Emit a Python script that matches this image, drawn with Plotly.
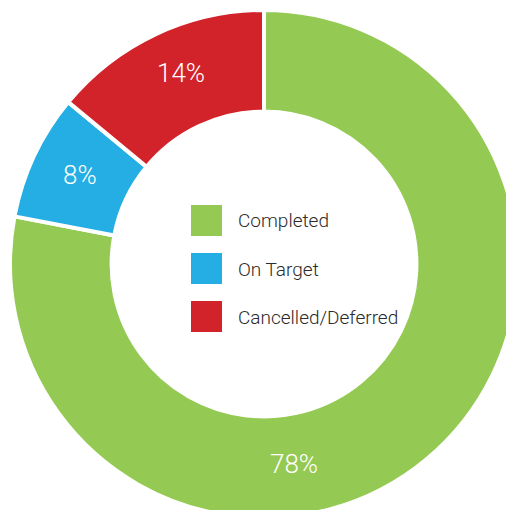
import plotly.graph_objects as go

categories = ["Completed", "On Target", "Cancelled/Deferred"]
values = [78, 8, 14]
colors = ["#94C953", "#25AEE3", "#D2232A"]

W, H = 528, 528
ML, MT, MR, MB = 10, 10, 10, 10
PW, PH = W - ML - MR, H - MT - MB


def px(x):
    return (x - ML) / PW


def py(y):
    return 1 - (y - MT) / PH


fig = go.Figure()
fig.add_trace(go.Pie(
    labels=categories,
    values=values,
    sort=False,
    direction="clockwise",
    rotation=0,
    hole=0.6,
    marker=dict(colors=colors, line=dict(color="white", width=4)),
    textinfo="none",
    showlegend=False,
    hoverinfo="label+percent",
))

# percentage labels inside the slices
total = sum(values)
label_pos = [(294, 464), (80, 175), (181, 73)]
for v, (lx, ly) in zip(values, label_pos):
    fig.add_annotation(
        x=px(lx), y=py(ly), xref="paper", yref="paper",
        xanchor="center", yanchor="middle",
        text=f"{round(v / total * 100)}%", showarrow=False,
        font=dict(family="Roboto", size=26, color="white", weight=300),
    )

# manual legend in the hole
leg_y = [220.5, 268.5, 316.5]
for cat, col, yc in zip(categories, colors, leg_y):
    fig.add_shape(type="rect", xref="paper", yref="paper",
                  x0=px(191), x1=px(222), y0=py(yc - 15.5), y1=py(yc + 15.5),
                  fillcolor=col, line=dict(width=0))
    fig.add_annotation(x=px(236), y=py(yc + 0.5), xref="paper", yref="paper",
                       text=cat, showarrow=False, xanchor="left", yanchor="middle",
                       font=dict(family="Roboto", size=19, color="#2b2b2b", weight=300))

fig.update_layout(
    width=W, height=H,
    margin=dict(l=ML, r=MR, t=MT, b=MB),
    paper_bgcolor="white", plot_bgcolor="white",
)
fig.write_html("out.html",
               config={"displayModeBar": False},
               post_script="document.body.style.margin='0';document.body.style.overflow='hidden';document.documentElement.style.overflow='hidden';")
